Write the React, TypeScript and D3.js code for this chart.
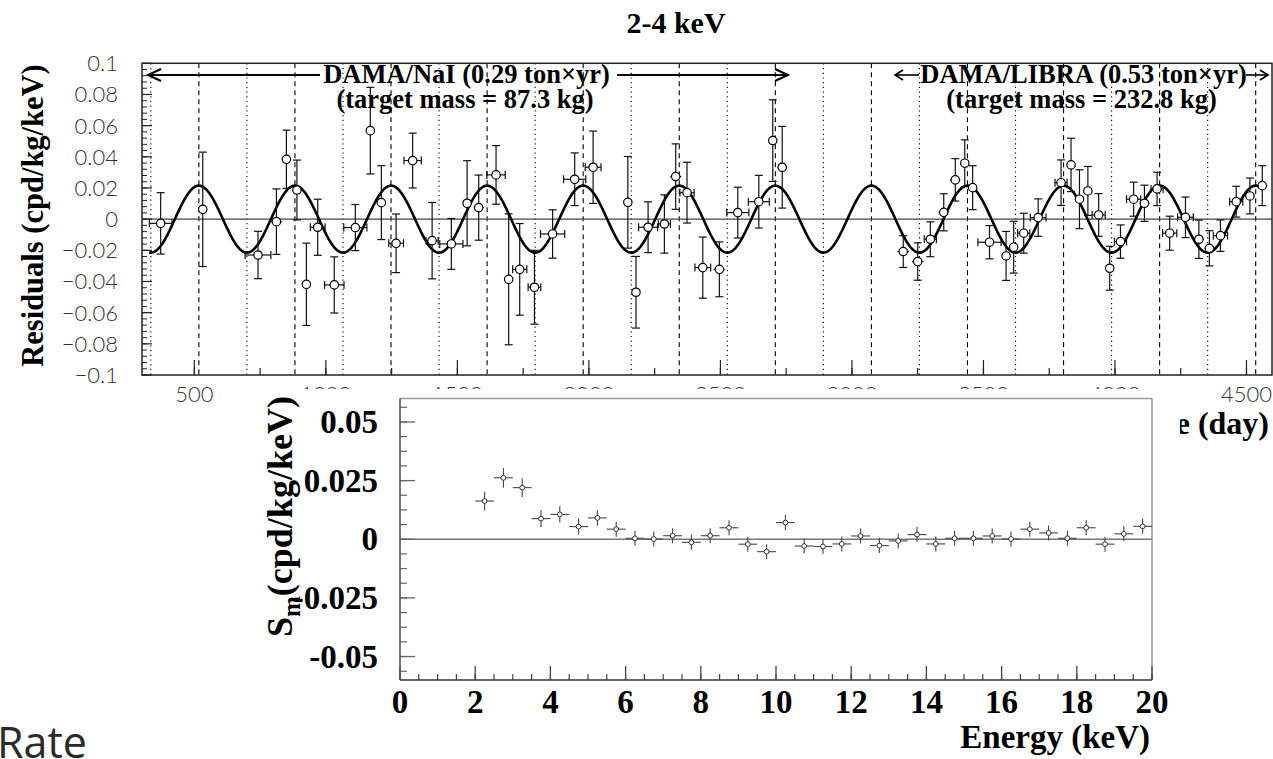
import React from 'react';
import * as d3 from 'd3';

const W = 1273;
const H = 759;

// ---------- top panel: residuals vs time ----------
const days = [372, 532, 742, 812, 850, 890, 926, 969, 1032, 1112, 1169, 1211, 1267, 1330, 1404, 1477, 1537, 1581, 1647, 1695, 1737, 1793, 1862, 1946, 2016, 2148, 2179, 2225, 2287, 2330, 2373, 2433, 2496, 2566, 2646, 2699, 2735, 3195, 3250, 3298, 3349, 3393, 3429, 3459, 3523, 3586, 3615, 3653, 3708, 3795, 3833, 3865, 3897, 3938, 3980, 4021, 4071, 4112, 4160, 4208, 4268, 4319, 4359, 4401, 4461, 4513, 4560];
const residuals = [-0.0027, 0.0063, -0.023, -0.0016, 0.0384, 0.0187, -0.0418, -0.0052, -0.0422, -0.0054, 0.0568, 0.0106, -0.0155, 0.0376, -0.0138, -0.0159, 0.0102, 0.0074, 0.0284, -0.0386, -0.0322, -0.0437, -0.0095, 0.0256, 0.0333, 0.0108, -0.0469, -0.0052, -0.0031, 0.0273, 0.017, -0.0311, -0.0322, 0.0042, 0.0112, 0.0504, 0.0333, -0.0208, -0.0272, -0.0129, 0.0044, 0.0252, 0.0359, 0.0202, -0.0148, -0.0236, -0.018, -0.009, 0.001, 0.0234, 0.0348, 0.0128, 0.0181, 0.0027, -0.0315, -0.0144, 0.0128, 0.0102, 0.0194, -0.009, 0.0012, -0.0129, -0.0187, -0.0106, 0.0112, 0.0149, 0.0215];
const residualErr = [0.0197, 0.0367, 0.0152, 0.021, 0.0187, 0.0192, 0.0264, 0.018, 0.018, 0.0148, 0.0278, 0.0237, 0.0188, 0.0176, 0.0245, 0.0163, 0.0273, 0.0209, 0.0188, 0.042, 0.0294, 0.0237, 0.0155, 0.0169, 0.0232, 0.0294, 0.023, 0.0163, 0.0187, 0.021, 0.0195, 0.0196, 0.0176, 0.0163, 0.0169, 0.0262, 0.0262, 0.0102, 0.012, 0.0112, 0.0119, 0.0136, 0.015, 0.0141, 0.0107, 0.0157, 0.0166, 0.0128, 0.012, 0.0146, 0.0171, 0.0189, 0.0157, 0.0137, 0.0141, 0.0107, 0.0109, 0.0116, 0.0107, 0.0109, 0.013, 0.0123, 0.0113, 0.0101, 0.0099, 0.0115, 0.0128];
const dayErr = [43, 10, 49, 22, 17, 12, 10, 28, 37, 44, 10, 15, 28, 33, 23, 44, 15, 19, 35, 8, 27, 24, 46, 42, 30, 8, 8, 36, 23, 21, 27, 30, 22, 42, 40, 8, 17, 22, 22, 23, 19, 19, 15, 15, 44, 15, 15, 23, 30, 23, 15, 15, 15, 25, 14, 23, 27, 19, 23, 27, 30, 19, 19, 27, 25, 19, 19];

// cosine fit A cos(2pi/T (t - t0))
const fitAmplitude = 0.0215;
const fitPeriod = 365.25;
const fitPhase = 152;
const fitStart = 328;
const fitEnd = 4560;

const topYTicks = [-0.1, -0.08, -0.06, -0.04, -0.02, 0, 0.02, 0.04, 0.06, 0.08, 0.1];
const topYTickLabels = ['\u22120.1', '\u22120.08', '\u22120.06', '\u22120.04', '\u22120.02', '0', '0.02', '0.04', '0.06', '0.08', '0.1'];
const topXTicks = [500, 1000, 1500, 2000, 2500, 3000, 3500, 4000, 4500];
const topXTickLabels = ['500', '1000', '1500', '2000', '2500', '3000', '3500', '4000', '4500'];

// ---------- bottom panel: Sm vs energy ----------
const energies = [2.25, 2.75, 3.25, 3.75, 4.25, 4.75, 5.25, 5.75, 6.25, 6.75, 7.25, 7.75, 8.25, 8.75, 9.25, 9.75, 10.25, 10.75, 11.25, 11.75, 12.25, 12.75, 13.25, 13.75, 14.25, 14.75, 15.25, 15.75, 16.25, 16.75, 17.25, 17.75, 18.25, 18.75, 19.25, 19.75];
const smValues = [0.0163, 0.0262, 0.022, 0.0088, 0.0106, 0.0054, 0.0091, 0.0043, 0.0004, 0.0001, 0.0015, -0.0013, 0.0015, 0.0049, -0.0021, -0.0053, 0.0071, -0.0029, -0.0031, -0.002, 0.0014, -0.0027, -0.0007, 0.002, -0.002, 0.0004, 0.0004, 0.0014, 0.0001, 0.0043, 0.0027, 0.0004, 0.0049, -0.0021, 0.0023, 0.0055];
const smErr = [0.004, 0.0042, 0.004, 0.0037, 0.0035, 0.0034, 0.0033, 0.0032, 0.0032, 0.0032, 0.0032, 0.0032, 0.0032, 0.0032, 0.0032, 0.0032, 0.0032, 0.0032, 0.0032, 0.0032, 0.0032, 0.0032, 0.0032, 0.0032, 0.0032, 0.0032, 0.0032, 0.0032, 0.0032, 0.0032, 0.0032, 0.0032, 0.0032, 0.0032, 0.0032, 0.0032];
const energyBinHalf = 0.25;
const bottomYTicks = [-0.05, -0.025, 0, 0.025, 0.05];
const bottomYTickLabels = ['-0.05', '-0.025', '0', '0.025', '0.05'];
const bottomXTicks = [0, 2, 4, 6, 8, 10, 12, 14, 16, 18, 20];

const SERIF = '"Liberation Serif", "Times New Roman", serif';
const SANS_THIN = 'Lato, "Liberation Sans", sans-serif';

function Arrow({ x1, x2, y, head = 13, half = 6, sw = 2 }: { x1: number; x2: number; y: number; head?: number; half?: number; sw?: number }) {
  const dir = x2 > x1 ? 1 : -1;
  return (
    <g stroke="#000" strokeWidth={sw} fill="none">
      <line x1={x1} y1={y} x2={x2} y2={y} />
      <polyline points={`${x2 - dir * head},${y - half} ${x2},${y} ${x2 - dir * head},${y + half}`} />
    </g>
  );
}

export default function App() {
  // top scales
  const tL = 142, tR = 1272, tT = 63.3, tB = 375;
  const x = d3.scaleLinear().domain([301, 4597]).range([tL, tR]);
  const y = d3.scaleLinear().domain([-0.1, 0.1]).range([tB, tT]);

  const curveDays = d3.range(fitStart, fitEnd + 0.1, 4);
  const line = d3
    .line<number>()
    .x((d) => x(d))
    .y((d) => y(fitAmplitude * Math.cos((2 * Math.PI * (d - fitPhase)) / fitPeriod)));
  const curvePath = line(curveDays) || '';

  const dashedDays = d3.range(1, 13).map((k) => fitPhase + k * fitPeriod).filter((d) => d > 301 && d < 4597);
  const dottedDays = d3.range(1, 13).map((k) => fitPhase - fitPeriod / 2 + k * fitPeriod).filter((d) => d > 301 && d < 4597);

  const yMinor = d3.range(-0.1, 0.1001, 0.004);
  const xMinor = d3.range(500, 4597, 250);

  // bottom scales
  const bL = 400, bR = 1152, bT = 398.5, bB = 680;
  const xb = d3.scaleLinear().domain([0, 20]).range([bL, bR]);
  const yb = d3.scaleLinear().domain([-0.06, 0.06]).range([bB, bT]);
  const ybMinor = d3.range(-0.05625, 0.0563, 0.00625);
  const xbMinor = d3.range(0, 20.01, 0.5);

  return (
    <svg width={W} height={H} style={{ position: 'absolute', left: 0, top: 0, background: '#fff' }}>
      <rect x={0} y={0} width={W} height={H} fill="#fff" />

      {/* title */}
      <text x={676} y={33} textAnchor="middle" fontFamily={SERIF} fontWeight="bold" fontSize={30}>
        2-4 keV
      </text>

      {/* ---------------- top panel ---------------- */}
      <g>
        {/* vertical guide lines */}
        {dashedDays.map((d, i) => (
          <line key={'da' + i} x1={x(d)} x2={x(d)} y1={tT} y2={tB} stroke="#000" strokeWidth={1.1} strokeDasharray="5,4" />
        ))}
        {dottedDays.map((d, i) => (
          <line key={'do' + i} x1={x(d)} x2={x(d)} y1={tT} y2={tB} stroke="#000" strokeWidth={1.1} strokeDasharray="1.2,3.5" />
        ))}
        {/* zero line */}
        <line x1={tL} x2={tR} y1={y(0)} y2={y(0)} stroke="#444" strokeWidth={1.2} />

        {/* y ticks */}
        {yMinor.map((t, i) => (
          <line key={'ym' + i} x1={tL} x2={tL + 5} y1={y(t)} y2={y(t)} stroke="#222" strokeWidth={1} />
        ))}
        {topYTicks.map((t, i) => (
          <g key={'yt' + i}>
            <line x1={tL} x2={tL + 10} y1={y(t)} y2={y(t)} stroke="#222" strokeWidth={1.2} />
            <text x={118} y={y(t) + 8} textAnchor="end" fontFamily={SANS_THIN} fontWeight={300} fontSize={22} fill="#333">
              {topYTickLabels[i]}
            </text>
          </g>
        ))}
        {/* x ticks */}
        {xMinor.map((t, i) => (
          <line key={'xm' + i} x1={x(t)} x2={x(t)} y1={tB} y2={tB - 7} stroke="#222" strokeWidth={1.2} />
        ))}
        {topXTicks.map((t, i) => (
          <g key={'xt' + i}>
            <line x1={x(t)} x2={x(t)} y1={tB} y2={tB - 15} stroke="#222" strokeWidth={1.2} />
            <text x={x(t)} y={401.5} textAnchor="middle" fontFamily={SANS_THIN} fontWeight={300} fontSize={22} fill="#333">
              {topXTickLabels[i]}
            </text>
          </g>
        ))}

        {/* fit curve */}
        <path d={curvePath} fill="none" stroke="#000" strokeWidth={2.6} />

        {/* data with error bars */}
        {days.map((d, i) => {
          const cx = x(d);
          const cy = y(residuals[i]);
          const yTop = y(residuals[i] + residualErr[i]);
          const yBot = y(residuals[i] - residualErr[i]);
          const xl = x(d - dayErr[i]);
          const xr = x(d + dayErr[i]);
          const showXCaps = cx - xl > 6;
          return (
            <g key={'p' + i} stroke="#111" strokeWidth={1.2}>
              <line x1={cx} x2={cx} y1={yTop} y2={yBot} />
              <line x1={cx - 4} x2={cx + 4} y1={yTop} y2={yTop} />
              <line x1={cx - 4} x2={cx + 4} y1={yBot} y2={yBot} />
              <line x1={xl} x2={xr} y1={cy} y2={cy} />
              {showXCaps && <line x1={xl} x2={xl} y1={cy - 4} y2={cy + 4} />}
              {showXCaps && <line x1={xr} x2={xr} y1={cy - 4} y2={cy + 4} />}
              <circle cx={cx} cy={cy} r={4.2} fill="#fff" stroke="#000" strokeWidth={1.2} />
            </g>
          );
        })}

        {/* frame */}
        <rect x={tL} y={tT} width={tR - tL} height={tB - tT} fill="none" stroke="#222" strokeWidth={1.5} />

        {/* annotations */}
        <Arrow x1={320} x2={148} y={75} />
        <Arrow x1={617} x2={788} y={75} />
        <text x={466.5} y={83.3} textAnchor="middle" fontFamily={SERIF} fontWeight="bold" fontSize={26.5}>
          DAMA/NaI (0.29 ton×yr)
        </text>
        <text x={465} y={108.3} textAnchor="middle" fontFamily={SERIF} fontWeight="bold" fontSize={26.5}>
          (target mass = 87.3 kg)
        </text>
        <Arrow x1={919} x2={895} y={75} head={8} half={5} sw={1.6} />
        <Arrow x1={1246} x2={1268} y={75} head={8} half={5} sw={1.6} />
        <text x={1083.5} y={83.3} textAnchor="middle" fontFamily={SERIF} fontWeight="bold" fontSize={26.5}>
          DAMA/LIBRA (0.53 ton×yr)
        </text>
        <text x={1081.5} y={108.3} textAnchor="middle" fontFamily={SERIF} fontWeight="bold" fontSize={26.5}>
          (target mass = 232.8 kg)
        </text>

        {/* axis titles */}
        <text transform="translate(43,215.5) rotate(-90)" textAnchor="middle" fontFamily={SERIF} fontWeight="bold" fontSize={30.5}>
          Residuals (cpd/kg/keV)
        </text>
        <text x={1269} y={434} textAnchor="end" fontFamily={SERIF} fontWeight="bold" fontSize={32}>
          Time (day)
        </text>
      </g>

      {/* ---------------- overlaid bottom panel ---------------- */}
      <g>
        <rect x={252} y={389} width={1180 - 252} height={H - 389} fill="#fff" />

        {/* zero line */}
        <line x1={bL} x2={bR} y1={yb(0)} y2={yb(0)} stroke="#777" strokeWidth={1.4} />

        {/* frame: top & right light, left & bottom dark */}
        <line x1={bL} x2={bR} y1={bT} y2={bT} stroke="#999" strokeWidth={1.6} />
        <line x1={bR} x2={bR} y1={bT} y2={bB} stroke="#999" strokeWidth={1.6} />

        {/* y ticks */}
        {ybMinor.map((t, i) => (
          <line key={'bym' + i} x1={bL} x2={bL + 7} y1={yb(t)} y2={yb(t)} stroke="#666" strokeWidth={1.2} />
        ))}
        {bottomYTicks.map((t, i) => (
          <g key={'byt' + i}>
            <line x1={bL} x2={bL + 15} y1={yb(t)} y2={yb(t)} stroke="#666" strokeWidth={1.3} />
            <text x={378} y={yb(t) + 11} textAnchor="end" fontFamily={SERIF} fontWeight="bold" fontSize={33}>
              {bottomYTickLabels[i]}
            </text>
          </g>
        ))}
        {/* x ticks */}
        {xbMinor.map((t, i) => (
          <line key={'bxm' + i} x1={xb(t)} x2={xb(t)} y1={bB} y2={bB - 6} stroke="#444" strokeWidth={1.2} />
        ))}
        {bottomXTicks.map((t, i) => (
          <g key={'bxt' + i}>
            <line x1={xb(t)} x2={xb(t)} y1={bB} y2={bB - 14} stroke="#444" strokeWidth={1.3} />
            <text x={xb(t)} y={713} textAnchor="middle" fontFamily={SERIF} fontWeight="bold" fontSize={33}>
              {String(t)}
            </text>
          </g>
        ))}
        <line x1={bL} x2={bL} y1={bT} y2={bB} stroke="#555" strokeWidth={1.6} />
        <line x1={bL} x2={bR} y1={bB} y2={bB} stroke="#333" strokeWidth={1.6} />

        {/* data */}
        {energies.map((e, i) => {
          const cx = xb(e);
          const cy = yb(smValues[i]);
          return (
            <g key={'b' + i} stroke="#444" strokeWidth={1.1}>
              <line x1={xb(e - energyBinHalf)} x2={xb(e + energyBinHalf)} y1={cy} y2={cy} />
              <line x1={cx} x2={cx} y1={yb(smValues[i] + smErr[i])} y2={yb(smValues[i] - smErr[i])} />
              <circle cx={cx} cy={cy} r={2.4} fill="#fff" stroke="#333" strokeWidth={1} />
            </g>
          );
        })}

        {/* axis titles */}
        <text transform="translate(292,637) rotate(-90)" textAnchor="start" fontFamily={SERIF} fontWeight="bold" fontSize={36}>
          S
          <tspan fontSize={25} dy={8}>
            m
          </tspan>
          <tspan fontSize={36} dy={-8}>
            (cpd/kg/keV)
          </tspan>
        </text>
        <text x={1150} y={748} textAnchor="end" fontFamily={SERIF} fontWeight="bold" fontSize={33}>
          Energy (keV)
        </text>
      </g>

      {/* stray caption fragment */}
      <text x={-3} y={758} fontFamily='"Open Sans", "Noto Sans", sans-serif' fontSize={43} fill="#2a2a2a">
        Rate
      </text>
    </svg>
  );
}
